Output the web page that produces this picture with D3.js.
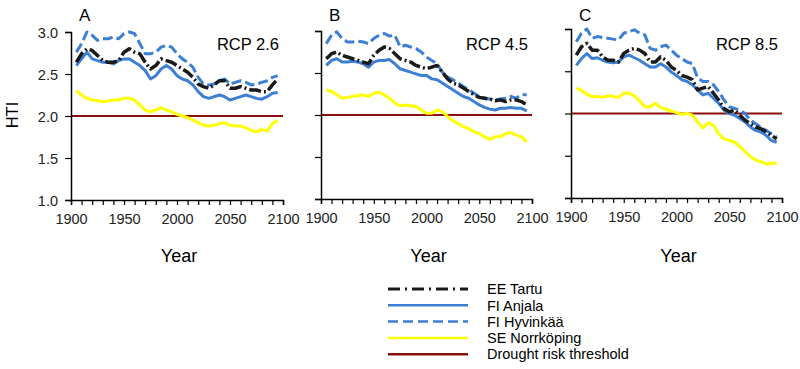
<!DOCTYPE html>
<html><head><meta charset="utf-8">
<script src="https://cdn.jsdelivr.net/npm/d3@7"></script>
<style>
body{margin:0;background:#fff;}
svg{display:block;font-family:"Liberation Sans",Arial,sans-serif;}
</style></head>
<body><svg id="c" width="800" height="369"></svg>
<script>
const years = [1905,1910,1915,1920,1925,1930,1935,1940,1945,1950,1955,1960,1965,1970,1975,1980,1985,1990,1995,2000,2005,2010,2015,2020,2025,2030,2035,2040,2045,2050,2055,2060,2065,2070,2075,2080,2085,2090,2095];
const xTicks = [1900,1950,2000,2050,2100];
const yTicks = [1.0,1.5,2.0,2.5,3.0];
const threshold = 2.0;
const panelLetters = ["A","B","C"];
const scenarios = ["RCP 2.6","RCP 4.5","RCP 8.5"];
const seriesNames = ["EE Tartu","FI Anjala","FI Hyvinkää","SE Norrköping"];
const thresholdName = "Drought risk threshold";

// RCP 2.6
const tartu26 = [2.64,2.74,2.80,2.78,2.72,2.66,2.64,2.64,2.66,2.76,2.80,2.76,2.74,2.64,2.56,2.60,2.68,2.66,2.64,2.60,2.56,2.52,2.46,2.38,2.35,2.33,2.37,2.42,2.42,2.33,2.33,2.35,2.33,2.31,2.31,2.29,2.29,2.37,2.44];
const anjala26 = [2.60,2.68,2.76,2.68,2.66,2.64,2.64,2.62,2.66,2.68,2.68,2.64,2.60,2.54,2.44,2.48,2.56,2.60,2.56,2.48,2.44,2.42,2.37,2.29,2.23,2.21,2.23,2.25,2.23,2.19,2.21,2.23,2.25,2.23,2.21,2.20,2.23,2.27,2.28];
const hyvinkaa26 = [2.76,2.86,3.00,2.96,2.90,2.92,2.92,2.94,2.92,2.98,3.00,2.98,2.86,2.74,2.74,2.76,2.82,2.84,2.82,2.74,2.68,2.64,2.58,2.46,2.38,2.37,2.38,2.42,2.44,2.38,2.40,2.42,2.40,2.37,2.38,2.40,2.42,2.46,2.48];
const norrkoping26 = [2.30,2.25,2.21,2.19,2.18,2.17,2.18,2.19,2.19,2.21,2.21,2.19,2.13,2.07,2.05,2.07,2.10,2.07,2.05,2.02,2.00,1.98,1.95,1.92,1.89,1.88,1.89,1.91,1.92,1.89,1.88,1.88,1.86,1.83,1.81,1.84,1.82,1.91,1.95];
// RCP 4.5
const tartu45 = [2.67,2.73,2.75,2.71,2.69,2.67,2.65,2.63,2.61,2.71,2.77,2.81,2.79,2.73,2.67,2.65,2.63,2.59,2.57,2.55,2.57,2.59,2.51,2.43,2.38,2.36,2.32,2.28,2.24,2.21,2.20,2.19,2.17,2.18,2.16,2.18,2.18,2.16,2.12];
const anjala45 = [2.59,2.65,2.67,2.63,2.63,2.64,2.63,2.61,2.57,2.63,2.65,2.65,2.66,2.61,2.55,2.53,2.51,2.49,2.47,2.47,2.43,2.42,2.38,2.34,2.30,2.26,2.22,2.20,2.16,2.12,2.09,2.07,2.06,2.08,2.08,2.09,2.08,2.08,2.05];
const hyvinkaa45 = [2.85,2.95,2.99,2.91,2.87,2.87,2.88,2.87,2.85,2.91,2.95,2.97,2.94,2.95,2.81,2.83,2.81,2.79,2.75,2.69,2.65,2.61,2.51,2.45,2.42,2.38,2.34,2.30,2.26,2.22,2.20,2.19,2.18,2.19,2.20,2.22,2.20,2.24,2.24];
const norrkoping45 = [2.30,2.28,2.24,2.20,2.21,2.22,2.23,2.24,2.22,2.26,2.27,2.24,2.20,2.14,2.11,2.12,2.11,2.10,2.06,2.02,2.02,2.06,2.04,1.98,1.93,1.90,1.86,1.84,1.80,1.78,1.74,1.71,1.74,1.74,1.78,1.79,1.76,1.74,1.68];
// RCP 8.5
const tartu85 = [2.69,2.79,2.83,2.75,2.75,2.67,2.63,2.63,2.61,2.71,2.75,2.77,2.75,2.71,2.61,2.61,2.67,2.63,2.55,2.51,2.45,2.43,2.40,2.28,2.30,2.32,2.24,2.16,2.06,2.02,2.04,1.98,1.92,1.88,1.84,1.82,1.78,1.74,1.70];
const anjala85 = [2.57,2.65,2.71,2.65,2.66,2.63,2.61,2.60,2.61,2.67,2.69,2.66,2.63,2.59,2.55,2.55,2.59,2.55,2.49,2.45,2.40,2.38,2.34,2.28,2.22,2.24,2.18,2.12,2.04,2.00,1.98,1.94,1.90,1.84,1.80,1.78,1.74,1.68,1.66];
const hyvinkaa85 = [2.85,2.95,3.00,2.89,2.91,2.90,2.89,2.88,2.87,2.95,2.97,2.99,2.95,2.93,2.77,2.75,2.79,2.81,2.75,2.69,2.65,2.61,2.59,2.42,2.38,2.38,2.34,2.26,2.16,2.08,2.06,2.04,2.00,1.92,1.88,1.84,1.80,1.76,1.72];
const norrkoping85 = [2.30,2.27,2.23,2.20,2.20,2.19,2.21,2.20,2.19,2.24,2.24,2.21,2.15,2.08,2.08,2.12,2.07,2.05,2.03,2.01,1.99,2.00,1.98,1.90,1.83,1.89,1.86,1.76,1.70,1.68,1.66,1.61,1.55,1.49,1.45,1.43,1.40,1.41,1.41];

const panelData = [
  [tartu26, anjala26, hyvinkaa26, norrkoping26],
  [tartu45, anjala45, hyvinkaa45, norrkoping45],
  [tartu85, anjala85, hyvinkaa85, norrkoping85]
];

const BLUE = "#3c7fd4", BLACK = "#1a1a1a", YELLOW = "#ffff00", RED = "#8b0f0f";
const styles = [
  {color: BLACK, width: 3.5, dash: "12,3,2,3"},
  {color: BLUE, width: 3, dash: null},
  {color: BLUE, width: 3, dash: "10,4"},
  {color: YELLOW, width: 3, dash: null}
];

const svg = d3.select("#c");
const panels = [
  {x0: 71, x1: 283, yb: 200, yt: 32},
  {x0: 321, x1: 532, yb: 199, yt: 31},
  {x0: 571, x1: 782, yb: 198, yt: 29}
];

panels.forEach((p, i) => {
  const x = d3.scaleLinear().domain([1900, 2100]).range([p.x0, p.x1]);
  const y = d3.scaleLinear().domain([1.0, 3.0]).range([p.yb, p.yt]);
  const g = svg.append("g");

  g.append("line").attr("x1", x(1900)).attr("x2", x(2100))
    .attr("y1", y(threshold)).attr("y2", y(threshold))
    .attr("stroke", RED).attr("stroke-width", 2);

  const line = d3.line().x((d, k) => x(years[k])).y(d => y(d));
  [3, 1, 2, 0].forEach(s => {
    const st = styles[s];
    const path = g.append("path").datum(panelData[i][s])
      .attr("d", line).attr("fill", "none")
      .attr("stroke", st.color).attr("stroke-width", st.width)
      .attr("stroke-linejoin", "round");
    if (st.dash) path.attr("stroke-dasharray", st.dash);
  });

  const xAxis = d3.axisBottom(x).tickValues(d3.range(1900, 2101, 10))
    .tickSize(5).tickFormat(d => xTicks.includes(d) ? d : "");
  const gx = g.append("g").attr("transform", `translate(0,${p.yb})`).call(xAxis);
  gx.select(".domain").attr("stroke", "#000").attr("stroke-width", 1.5);
  gx.selectAll(".tick line").attr("stroke", "#000").attr("stroke-width", 1.2);
  gx.selectAll("text").attr("font-size", 14.5).attr("fill", "#222")
    .attr("font-family", "Liberation Sans, Arial, sans-serif").attr("y", 8).attr("dy", "1.1em");

  const yAxis = d3.axisLeft(y).tickValues(yTicks).tickSize(6)
    .tickFormat(i === 0 ? d3.format(".1f") : () => "");
  const gy = g.append("g").attr("transform", `translate(${p.x0},0)`).call(yAxis);
  gy.select(".domain").attr("stroke", "#000").attr("stroke-width", 1.5);
  gy.selectAll(".tick line").attr("stroke", "#000").attr("stroke-width", 1.2);
  gy.selectAll("text").attr("font-size", 14.5).attr("fill", "#222")
    .attr("font-family", "Liberation Sans, Arial, sans-serif").attr("x", -13).attr("dy", "0.36em");

  g.append("text").attr("x", (p.x0 + p.x1) / 2 + 2).attr("y", 262)
    .attr("text-anchor", "middle").attr("font-size", 18).attr("fill", "#000").text("Year");
  g.append("text").attr("x", p.x0 + 8).attr("y", 21)
    .attr("font-size", 17).attr("fill", "#000").text(panelLetters[i]);
  g.append("text").attr("x", p.x1 - 4).attr("y", 50).attr("text-anchor", "end")
    .attr("font-size", 16.5).attr("fill", "#000").text(scenarios[i]);
});

svg.append("text").attr("transform", "translate(18,115) rotate(-90)")
  .attr("text-anchor", "middle").attr("font-size", 16.5).attr("fill", "#000").text("HTI");

const legendNames = seriesNames.concat([thresholdName]);
const legendStyles = styles.concat([{color: RED, width: 2, dash: null}]);
const legendDash = ["12,5,2,5", null, "10,5", null, null];
const lg = svg.append("g");
legendNames.forEach((n, k) => {
  const yy = 289 + k * 16.3;
  const st = legendStyles[k];
  const l = lg.append("line").attr("x1", 388).attr("x2", 468).attr("y1", yy).attr("y2", yy)
    .attr("stroke", st.color).attr("stroke-width", k === 0 ? 3 : 2.5);
  if (legendDash[k]) l.attr("stroke-dasharray", legendDash[k]);
  lg.append("text").attr("x", 487).attr("y", yy).attr("dy", "0.36em")
    .attr("font-size", 14.5).attr("fill", "#000").text(n);
});
</script></body></html>
